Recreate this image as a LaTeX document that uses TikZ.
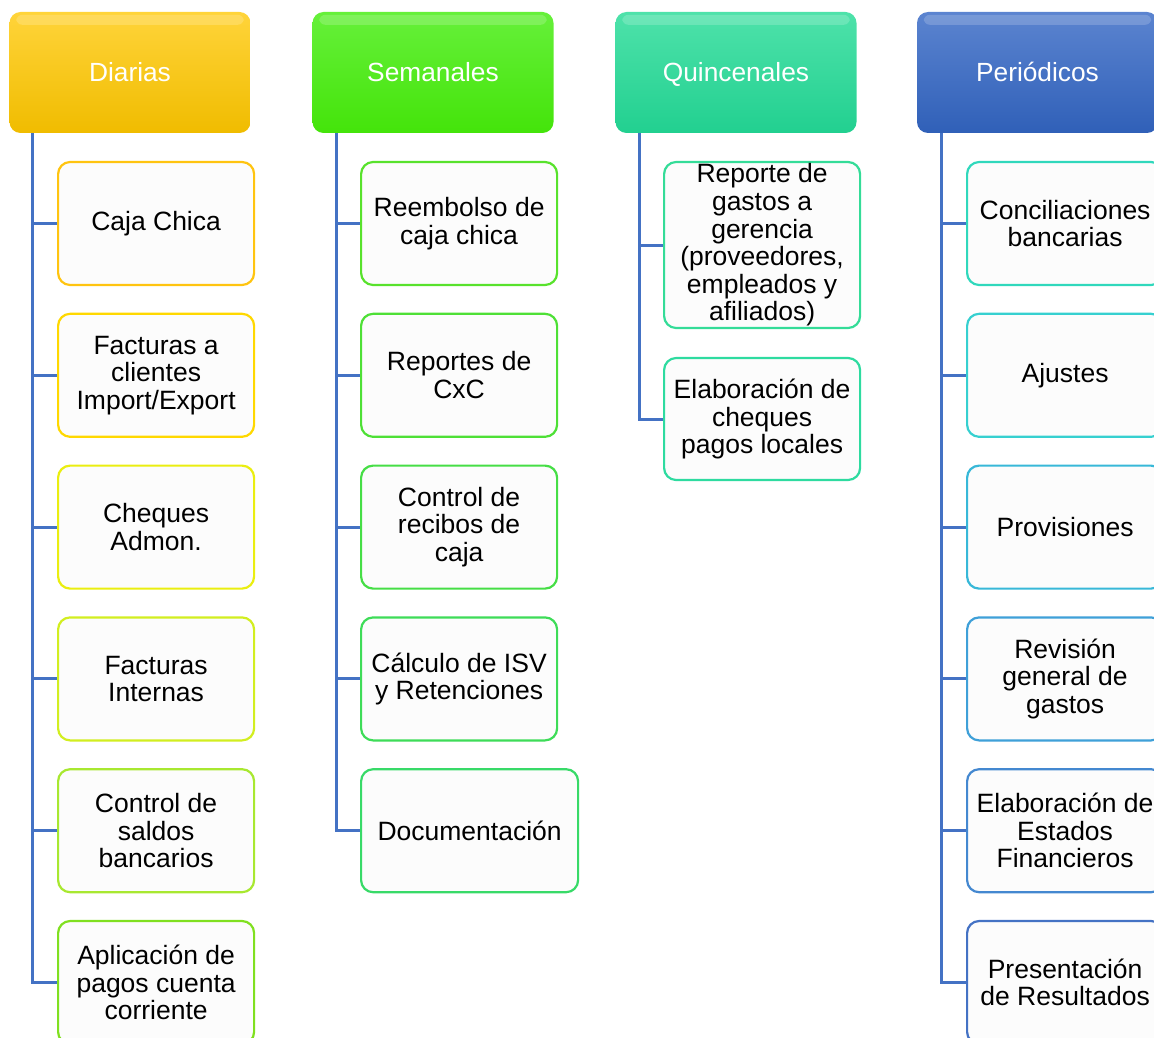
\documentclass[tikz,border=0pt]{standalone}
\usepackage{fontspec}
\setmainfont{Liberation Sans}
\usetikzlibrary{positioning}

\definecolor{lineblue}{HTML}{4472C4}
\definecolor{boxfill}{HTML}{FCFCFC}
% header colours
\definecolor{diatop}{HTML}{FFD43A}
\definecolor{diabot}{HTML}{F0BC00}
\definecolor{semtop}{HTML}{66F03A}
\definecolor{sembot}{HTML}{44E40A}
\definecolor{quitop}{HTML}{4EE2AA}
\definecolor{quibot}{HTML}{22D090}
\definecolor{pertop}{HTML}{5B84D0}
\definecolor{perbot}{HTML}{3060B8}
% border colours of the items
\definecolor{da}{HTML}{FFC410}
\definecolor{db}{HTML}{FFD800}
\definecolor{dc}{HTML}{EAEE10}
\definecolor{dd}{HTML}{D2EE20}
\definecolor{de}{HTML}{A8E830}
\definecolor{df}{HTML}{80E020}
\definecolor{sa}{HTML}{58E22C}
\definecolor{sb}{HTML}{4EE036}
\definecolor{sc}{HTML}{46DE46}
\definecolor{sd}{HTML}{3EDC58}
\definecolor{se}{HTML}{38DA68}
\definecolor{qa}{HTML}{34DC98}
\definecolor{qb}{HTML}{2EDBA0}
\definecolor{pa}{HTML}{30D8BC}
\definecolor{pb}{HTML}{36D0D0}
\definecolor{pc}{HTML}{38B8D8}
\definecolor{pd}{HTML}{3FA0D8}
\definecolor{pe}{HTML}{4488D0}
\definecolor{pf}{HTML}{4472C4}

\tikzset{
    header/.style={rounded corners=11pt, minimum width=241pt, minimum height=121pt,
        text=white, font=\fontsize{26.3}{29}\selectfont,
        text height=19pt, text depth=1pt},
    item/.style={rounded corners=12pt, minimum width=196pt, minimum height=123pt,
        fill=boxfill, line width=2.2pt, align=center, anchor=west, inner sep=1pt,
        font=\fontsize{26.5}{27.6}\selectfont},
    conn/.style={lineblue, line width=3pt},
}

\begin{document}
\begin{tikzpicture}[x=1pt, y=-1pt]
    \useasboundingbox (0,0) rectangle (1154,1038);
    \clip (0,0) rectangle (1154,1038);

    % draw headers
    \node[header, top color=diatop, bottom color=diabot] (dia) at (130,72.5) {Diarias};
    \node[header, top color=semtop, bottom color=sembot] (sem) at (433,72.5) {Semanales};
    \node[header, top color=quitop, bottom color=quibot] (qui) at (736,72.5) {Quincenales};
    \node[header, top color=pertop, bottom color=perbot] (per) at (1037.5,72.5) {Periódicos};
    % glossy band on top of the headers
    \foreach \h in {dia, sem, qui, per}
        \fill[white, opacity=0.18, rounded corners=6pt]
            ([xshift=7pt, yshift=-3pt]\h.north west) rectangle ([xshift=-7pt, yshift=-13pt]\h.north east);

    % draw items of Diarias
    \foreach \t/\c [count=\i] in {{Caja Chica}/da, {Facturas a\\clientes\\Import/Export}/db,
        {Cheques\\Admon.}/dc, {Facturas\\Internas}/dd, {Control de\\saldos\\bancarios}/de,
        {Aplicación de\\pagos cuenta\\corriente}/df}
        \node[item, draw=\c] (dia\i) at (57, {223.5+(\i-1)*151.8}) {\t};

    % draw items of Semanales
    \foreach \t/\c [count=\i] in {{Reembolso de\\caja chica}/sa, {Reportes de\\CxC}/sb,
        {Control de\\recibos de\\caja}/sc, {Cálculo de ISV\\y Retenciones}/sd}
        \node[item, draw=\c] (sem\i) at (360, {223.5+(\i-1)*151.8}) {\t};
    \node[item, draw=se, minimum width=217pt] (sem5) at (360, 830.7) {Documentación};

    % draw items of Quincenales
    \node[item, draw=qa, minimum height=166pt] (qui1) at (663,245)
        {Reporte de\\gastos a\\gerencia\\(proveedores,\\empleados y\\afiliados)};
    \node[item, draw=qb, minimum height=122pt] (qui2) at (663,419)
        {Elaboración de\\cheques\\pagos locales};

    % draw items of Periódicos
    \foreach \t/\c [count=\i] in {{Conciliaciones\\bancarias}/pa, {Ajustes}/pb,
        {Provisiones}/pc, {Revisión\\general de\\gastos}/pd,
        {Elaboración de\\Estados\\Financieros}/pe, {Presentación\\de Resultados}/pf}
        \node[item, draw=\c] (per\i) at (966, {223.5+(\i-1)*151.8}) {\t};

    % draw connectors
    \foreach \i in {1, 2, ..., 6}
        \draw[conn] ([xshift=23pt]dia.south west) |- (dia\i.west);
    \foreach \i in {1, 2, ..., 5}
        \draw[conn] ([xshift=24pt]sem.south west) |- (sem\i.west);
    \foreach \i in {1, 2}
        \draw[conn] ([xshift=24pt]qui.south west) |- (qui\i.west);
    \foreach \i in {1, 2, ..., 6}
        \draw[conn] ([xshift=25pt]per.south west) |- (per\i.west);

\end{tikzpicture}
\end{document}
